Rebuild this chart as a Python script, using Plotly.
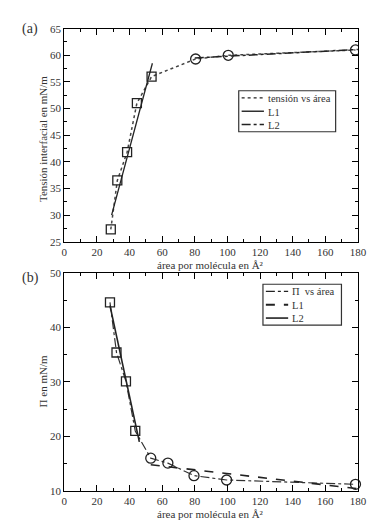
import plotly.graph_objects as go

# Panel (a): interfacial tension vs area
area_a = [28.5, 32.5, 38.5, 44.5, 53.5, 80.5, 100.5, 178.5]
tension_a = [27.3, 36.5, 41.8, 51.0, 56.0, 59.3, 60.0, 61.0]
square_n_a = 5  # first five points drawn as squares, rest circles
L1a_x = [29, 54]
L1a_y = [30.0, 58.5]
L2a_x = [80, 180]
L2a_y = [59.5, 61.1]
legend_a = ["tensión vs área", "L1", "L2"]

# Panel (b): surface pressure vs area
area_b = [28.0, 32.0, 37.8, 43.5, 53.0, 63.5, 79.5, 99.5, 178.5]
pi_b = [44.6, 35.4, 30.1, 21.0, 16.0, 15.1, 12.8, 12.0, 11.2]
square_n_b = 4
L1b_x = [53, 180]
L1b_y = [14.8, 10.4]
L2b_x = [28, 46]
L2b_y = [44.0, 19.0]
legend_b = ["Π  vs área", "L1", "L2"]

x_title = "área por molécula en Å²"
y_title_a = "Tensión interfacial en mN/m"
y_title_b = "Π en mN/m"

FONT = "Liberation Serif"
TXT = "#333333"

dash_a = ["dot", "solid", "dashdot"]
dash_b = ["dashdot", "dash", "solid"]

fig = go.Figure()

# --- panel (a)
fig.add_trace(go.Scatter(x=area_a, y=tension_a, mode="lines", name=legend_a[0],
                         line=dict(color="#444", width=1.5, dash=dash_a[0]),
                         xaxis="x", yaxis="y"))
fig.add_trace(go.Scatter(x=L1a_x, y=L1a_y, mode="lines", name=legend_a[1],
                         line=dict(color="#222", width=1.3, dash=dash_a[1]),
                         xaxis="x", yaxis="y"))
fig.add_trace(go.Scatter(x=L2a_x, y=L2a_y, mode="lines", name=legend_a[2],
                         line=dict(color="#222", width=1.5, dash=dash_a[2]),
                         xaxis="x", yaxis="y"))
fig.add_trace(go.Scatter(x=area_a[:square_n_a], y=tension_a[:square_n_a], mode="markers",
                         marker=dict(symbol="square-open", size=9, color="#222", line=dict(width=1.3)),
                         xaxis="x", yaxis="y"))
fig.add_trace(go.Scatter(x=area_a[square_n_a:], y=tension_a[square_n_a:], mode="markers",
                         marker=dict(symbol="circle-open", size=10, color="#222", line=dict(width=1.3)),
                         xaxis="x", yaxis="y"))

# --- panel (b)
fig.add_trace(go.Scatter(x=area_b, y=pi_b, mode="lines", name=legend_b[0],
                         line=dict(color="#333", width=1.2, dash=dash_b[0]),
                         xaxis="x2", yaxis="y2"))
fig.add_trace(go.Scatter(x=L1b_x, y=L1b_y, mode="lines", name=legend_b[1],
                         line=dict(color="#222", width=1.6, dash=dash_b[1]),
                         xaxis="x2", yaxis="y2"))
fig.add_trace(go.Scatter(x=L2b_x, y=L2b_y, mode="lines", name=legend_b[2],
                         line=dict(color="#222", width=1.6, dash=dash_b[2]),
                         xaxis="x2", yaxis="y2"))
fig.add_trace(go.Scatter(x=area_b[:square_n_b], y=pi_b[:square_n_b], mode="markers",
                         marker=dict(symbol="square-open", size=9, color="#222", line=dict(width=1.3)),
                         xaxis="x2", yaxis="y2"))
fig.add_trace(go.Scatter(x=area_b[square_n_b:], y=pi_b[square_n_b:], mode="markers",
                         marker=dict(symbol="circle-open", size=10, color="#222", line=dict(width=1.3)),
                         xaxis="x2", yaxis="y2", cliponaxis=False))

W, H = 388, 527
def fx(px): return px / W
def fy(py): return 1 - py / H

common_x = dict(range=[0, 180], tickvals=list(range(0, 181, 20)), ticks="inside", ticklen=6,
                mirror="ticks", showline=True, linecolor="black", linewidth=1.2,
                showgrid=False, zeroline=False, tickcolor="black",
                minor=dict(dtick=10, ticks="inside", ticklen=3, tickcolor="black", showgrid=False),
                tickfont=dict(family=FONT, size=11, color=TXT))
common_y = dict(ticks="inside", ticklen=6, mirror="ticks", showline=True, linecolor="black",
                linewidth=1.2, showgrid=False, zeroline=False, tickcolor="black",
                tickfont=dict(family=FONT, size=11, color=TXT))

def txt(text, x, y, size=11, angle=0):
    return dict(text=text, x=fx(x), y=fy(y), xref="paper", yref="paper", xanchor="center",
                yanchor="middle", showarrow=False, textangle=angle, borderpad=0,
                font=dict(family=FONT, size=size, color=TXT))

shapes = []
annotations = [
    txt("(a)", 20, 15, 14),
    txt("(b)", 20, 270, 14),
    txt(x_title, 206, 257),
    txt(x_title, 206, 512),
    txt(y_title_a, 33, 128, angle=-90),
    txt(y_title_b, 33, 376, angle=-90),
]

LEG_FS = 10.5
ROW = LEG_FS * 1.3

def add_legend(x0, x1, yc, labels, dashes, widths):
    y0 = yc - 1.5 * ROW - 0.5
    y1 = yc + 1.5 * ROW + 0.5
    shapes.append(dict(type="rect", xref="paper", yref="paper", x0=fx(x0), x1=fx(x1),
                       y0=fy(y1), y1=fy(y0), line=dict(color="#333", width=1.2),
                       fillcolor="white", layer="above"))
    for i, (d, w) in enumerate(zip(dashes, widths)):
        yy = yc + (i - 1) * ROW
        shapes.append(dict(type="line", xref="paper", yref="paper", x0=fx(x0 + 3), x1=fx(x0 + 26),
                           y0=fy(yy), y1=fy(yy), line=dict(color="#222", width=w, dash=d),
                           layer="above"))
    annotations.append(dict(text="<br>".join(labels), x=fx(x0 + 29), y=fy(yc + 0.5),
                            xref="paper", yref="paper", xanchor="left", yanchor="middle",
                            align="left", showarrow=False, borderpad=0,
                            font=dict(family=FONT, size=LEG_FS, color=TXT)))

add_legend(235, 335, 99.5, legend_a, dash_a, [1.4, 1.4, 1.4])
add_legend(260, 341, 297.5, legend_b, dash_b, [1.3, 1.8, 1.6])

fig.update_layout(
    width=W, height=H, margin=dict(l=0, r=0, t=0, b=0),
    paper_bgcolor="white", plot_bgcolor="white", showlegend=False,
    font=dict(family=FONT, color=TXT),
    xaxis=dict(domain=[fx(55), fx(358)], anchor="y", **common_x),
    yaxis=dict(domain=[fy(233), fy(15)], anchor="x", range=[25, 65], dtick=5,
               minor=dict(dtick=2.5, ticks="inside", ticklen=3, tickcolor="black", showgrid=False),
               **common_y),
    xaxis2=dict(domain=[fx(55), fx(358)], anchor="y2", **common_x),
    yaxis2=dict(domain=[fy(488), fy(265)], anchor="x2", range=[10, 50], dtick=10,
                minor=dict(dtick=5, ticks="inside", ticklen=3, tickcolor="black", showgrid=False),
                **common_y),
    shapes=shapes,
    annotations=annotations,
)

fig.write_html("out.html")
